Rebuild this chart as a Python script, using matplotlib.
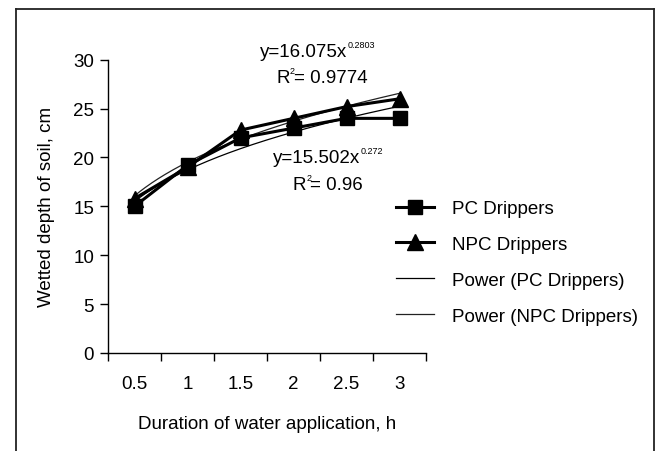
import numpy as np
import matplotlib
matplotlib.use("Agg")
import matplotlib.pyplot as plt
from matplotlib.lines import Line2D

plt.rcParams['font.family'] = ['Liberation Sans', 'DejaVu Sans']

# data
hours = ['0.5', '1', '1.5', '2', '2.5', '3']
pc_depth = [15.0, 19.2, 22.0, 23.0, 24.0, 24.0]
npc_depth = [15.8, 19.0, 22.8, 24.0, 25.2, 26.0]

# power trendline coefficients (Excel, x = category index)
pc_fit = (15.502, 0.272, 0.96)
npc_fit = (16.075, 0.2803, 0.9774)

W, H = 656, 452
FS = 13.5
fig = plt.figure(figsize=(W / 100, H / 100), dpi=100)

def fx(px):
    return px / W

def fy(py):
    return 1 - py / H

ax = fig.add_axes([fx(108), fy(354), fx(426) - fx(108), fy(60.7) - fy(354)])

idx = np.arange(1, len(hours) + 1)
xs = np.linspace(1, len(hours), 200)

ax.plot(xs, pc_fit[0] * xs ** pc_fit[1], color='black', lw=0.9, label='Power (PC Drippers)')
ax.plot(xs, npc_fit[0] * xs ** npc_fit[1], color='#222222', lw=0.9, label='Power (NPC Drippers)')
ax.plot(idx, pc_depth, color='black', lw=2.2, marker='s', markersize=9.5, label='PC Drippers')
ax.plot(idx, npc_depth, color='black', lw=2.2, marker='^', markersize=11, label='NPC Drippers')

ax.set_xlim(0.5, len(hours) + 0.5)
ax.set_ylim(0, 30)
ax.set_yticks(np.arange(0, 31, 5))
ax.set_xticks(np.arange(0.5, len(hours) + 1, 1.0))
ax.set_xticklabels([])
ax.set_xticks(idx, minor=True)
ax.set_xticklabels(hours, minor=True)
ax.tick_params(axis='x', which='minor', length=0, pad=16, labelsize=FS)
ax.tick_params(axis='x', which='major', length=6, width=1, direction='out')
ax.tick_params(axis='y', length=6, width=1, direction='out', labelsize=FS, pad=4)
for s in ['top', 'right']:
    ax.spines[s].set_visible(False)
for s in ['left', 'bottom']:
    ax.spines[s].set_linewidth(1.0)

fig.text(fx(267), fy(425), 'Duration of water application, h', fontsize=FS,
         ha='center', va='center')
fig.text(fx(47), fy(207), 'Wetted depth of soil, cm', fontsize=FS,
         ha='center', va='center', rotation=90)

# trendline equations, with small Excel-style superscripts
def equation(px, py, coef, power):
    t = fig.text(fx(px), fy(py), 'y=%.3fx' % coef, fontsize=FS, ha='left', va='baseline')
    ax.annotate(str(power), xy=(1, 0.62), xycoords=t, fontsize=6.5,
                ha='left', va='bottom', annotation_clip=False)

def r_squared(px, py, r2):
    t = fig.text(fx(px), fy(py), 'R', fontsize=FS, ha='left', va='baseline')
    ax.annotate('2', xy=(1, 0.62), xycoords=t, fontsize=6.5, ha='left', va='bottom',
                annotation_clip=False)
    ax.annotate('= %s' % r2, xy=(1, 0), xycoords=t, xytext=(4, 0),
                textcoords='offset pixels', fontsize=FS, ha='left', va='bottom',
                annotation_clip=False)

equation(260, 57, npc_fit[0], npc_fit[1])
r_squared(276, 83, npc_fit[2])
equation(273, 163, pc_fit[0], pc_fit[1])
r_squared(293, 190, pc_fit[2])

handles, labels = ax.get_legend_handles_labels()
order = [2, 3, 0, 1]
fig.legend([handles[i] for i in order], [labels[i] for i in order],
           loc='upper left', bbox_to_anchor=(fx(396), fy(201)), frameon=False,
           fontsize=FS, handlelength=2.0, handletextpad=1.0, labelspacing=1.0,
           borderpad=0, borderaxespad=0)

# outer frame (no bottom edge visible)
frame_kw = dict(color='#222222', lw=1.3, transform=fig.transFigure)
fig.add_artist(Line2D([fx(15.5), fx(15.5)], [0, fy(9.5)], **frame_kw))
fig.add_artist(Line2D([fx(15.5), fx(653.5)], [fy(9.5), fy(9.5)], **frame_kw))
fig.add_artist(Line2D([fx(653.5), fx(653.5)], [fy(9.5), 0], **frame_kw))

fig.savefig('out.png', dpi=100)
